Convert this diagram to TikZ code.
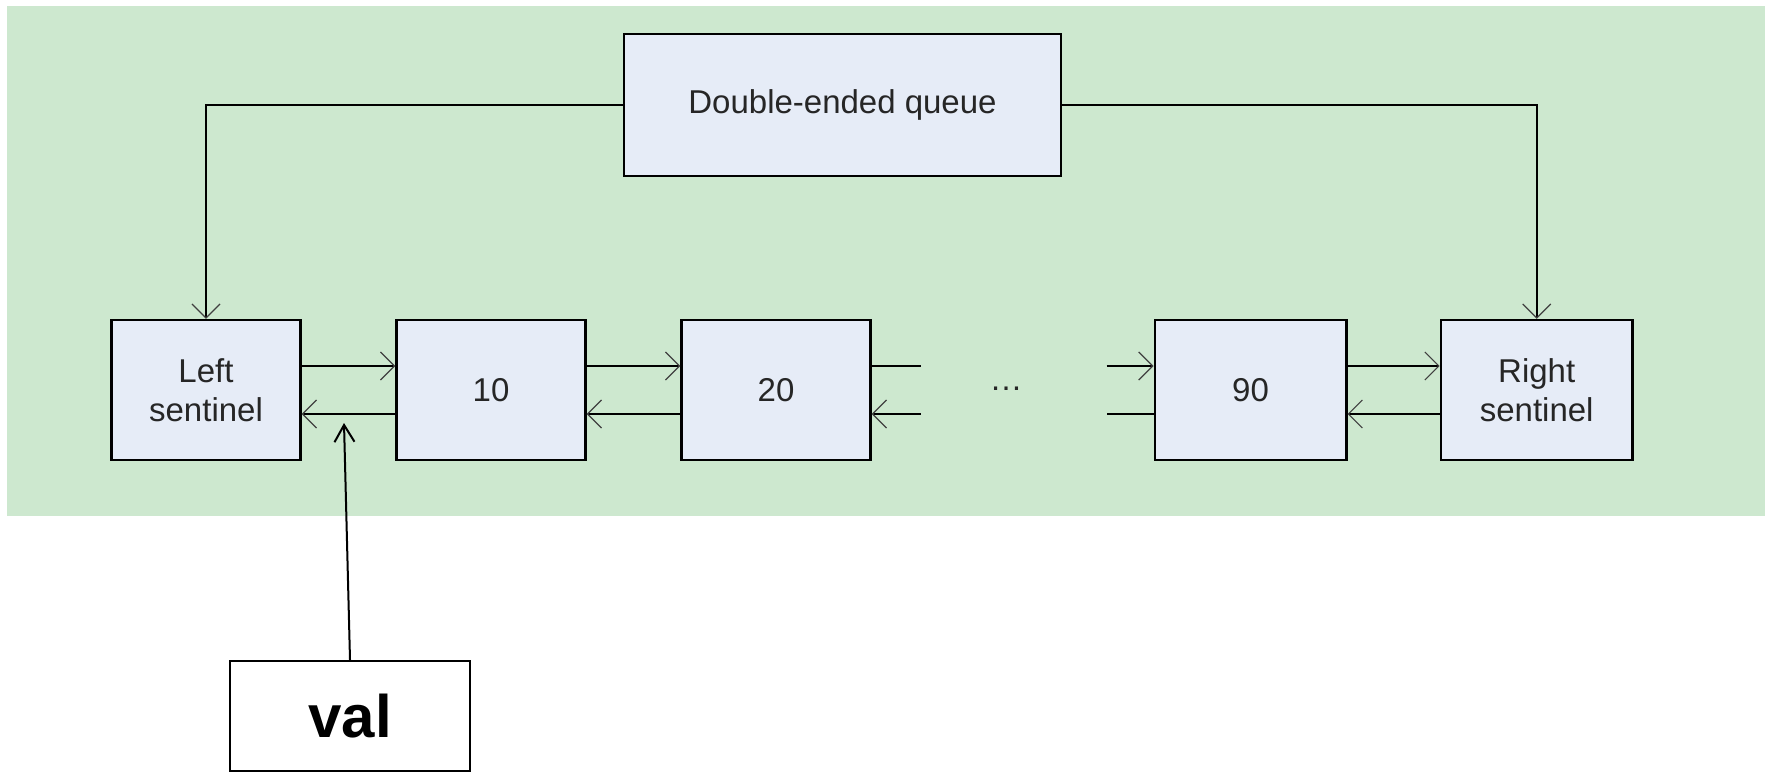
\documentclass[tikz,border=0pt]{standalone}
\usepackage{fontspec}
\setmainfont{Liberation Sans}
\usetikzlibrary{positioning,arrows.meta}
\definecolor{bggreen}{HTML}{CDE8CF}
\definecolor{cellfill}{HTML}{E6ECF7}
\definecolor{inktext}{HTML}{262626}
\tikzset{
  cell/.style={draw, line width=1.2pt, fill=cellfill, minimum width=94.5pt, minimum height=70pt, align=center, text=inktext, font=\fontsize{16.5}{19.5}\selectfont},
  link/.style={line width=0.9pt, -{Straight Barb[length=7pt,width=14pt,line width=0.6pt,color=black!75]}},
  wire/.style={line width=0.9pt},
  push/.style={line width=1pt, -{Straight Barb[length=8.5pt,width=10pt,line width=1pt]}},
  valbox/.style={draw, line width=1.2pt, fill=white, minimum width=120pt, minimum height=55pt, font=\fontsize{30}{36}\selectfont\bfseries}
}
\begin{document}
\begin{tikzpicture}[x=0.5pt,y=-0.5pt]
\useasboundingbox (0,0) rectangle (1770,772);
\fill[bggreen] (7,6) rectangle (1765,516);
% queue header and the list cells
\node[cell, minimum width=218.5pt, minimum height=71pt] (deque) at (842.5,105) {Double-ended queue};
\node[cell] (left) at (206,390) {Left\\sentinel};
\node[cell, right=46.8pt of left] (n10) {10};
\node[cell, right=46.8pt of n10] (n20) {20};
\node[cell, minimum width=95.8pt, right=140.9pt of n20] (n90) {90};
\node[cell, minimum width=95.8pt, right=46.1pt of n90] (right) {Right\\sentinel};
\node[text=inktext, font=\fontsize{16.5}{19.5}\selectfont] (dots) at (1006,389) {…};
\node[valbox] (val) at (350,716) {val};
% loose ends round the gap
\coordinate (s20a) at ([xshift=24.5pt,yshift=12pt]n20.east);
\coordinate (s20b) at ([xshift=24.5pt,yshift=-12pt]n20.east);
\coordinate (s90a) at ([xshift=-23.5pt,yshift=12pt]n90.west);
\coordinate (s90b) at ([xshift=-23.5pt,yshift=-12pt]n90.west);
\coordinate (valtip) at (344,423);
% pointers
\draw[link] (deque.west) -| (left.north);
\draw[link] (deque.east) -| (right.north);
\draw[link] ([yshift=12pt]left.east) -- ([yshift=12pt]n10.west);
\draw[link] ([yshift=-12pt]n10.west) -- ([yshift=-12pt]left.east);
\draw[link] ([yshift=12pt]n10.east) -- ([yshift=12pt]n20.west);
\draw[link] ([yshift=-12pt]n20.west) -- ([yshift=-12pt]n10.east);
\draw[wire] ([yshift=12pt]n20.east) -- (s20a);
\draw[link] (s20b) -- ([yshift=-12pt]n20.east);
\draw[link] (s90a) -- ([yshift=12pt]n90.west);
\draw[wire] ([yshift=-12pt]n90.west) -- (s90b);
\draw[link] ([yshift=12pt]n90.east) -- ([yshift=12pt]right.west);
\draw[link] ([yshift=-12pt]right.west) -- ([yshift=-12pt]n90.east);
\draw[push] (val.north) -- (valtip);
\end{tikzpicture}
\end{document}
